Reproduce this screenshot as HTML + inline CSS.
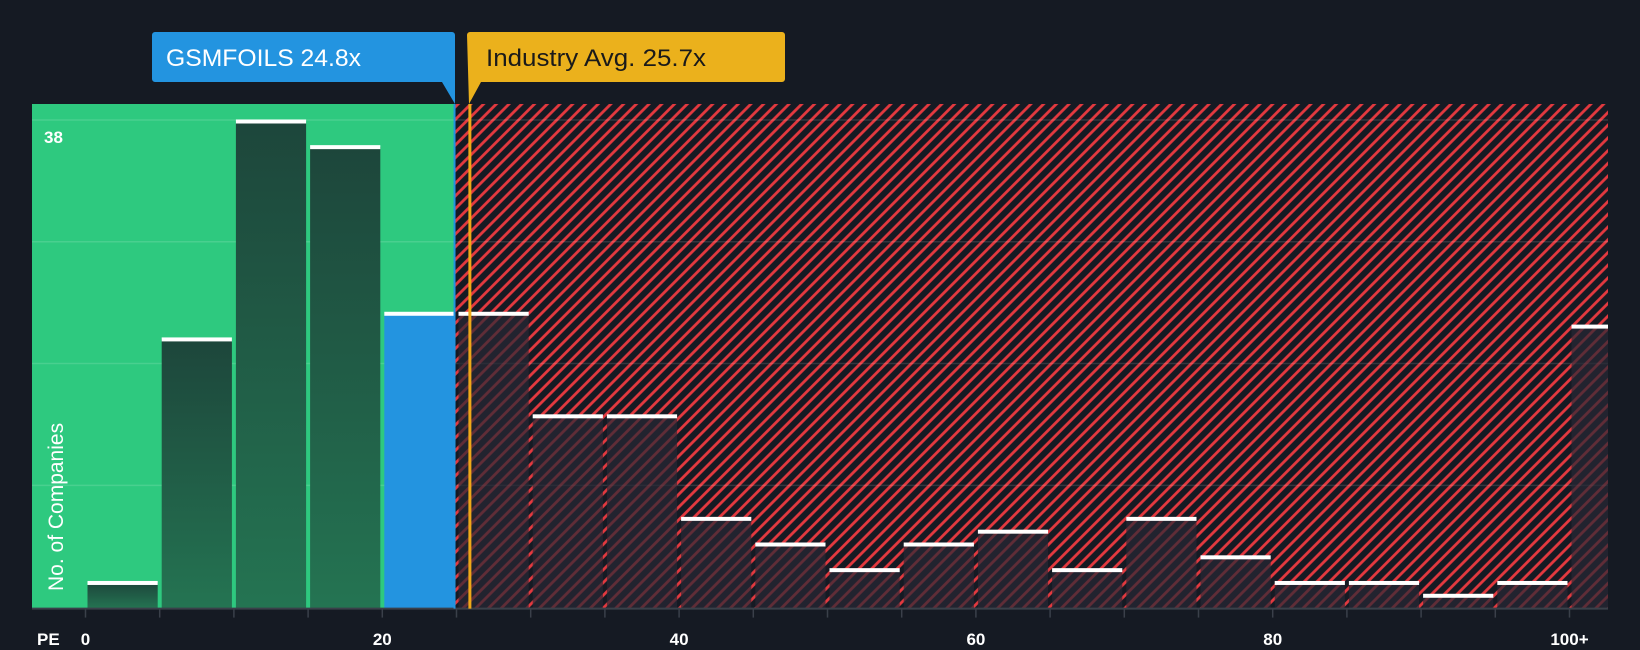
<!DOCTYPE html>
<html><head><meta charset="utf-8"><style>
html,body{margin:0;padding:0;background:#151a23;}
svg{display:block;font-family:"Liberation Sans",sans-serif;}
</style></head><body>
<svg width="1640" height="650" viewBox="0 0 1640 650" xmlns="http://www.w3.org/2000/svg">
<defs>
<pattern id="hatch" patternUnits="userSpaceOnUse" width="9" height="9" patternTransform="rotate(45)">
<rect width="9" height="9" fill="#151a23"/>
<line x1="1.5" y1="0" x2="1.5" y2="9" stroke="#e4393f" stroke-width="2.8"/>
</pattern>
<linearGradient id="gbar" x1="0" y1="0" x2="0" y2="1">
<stop offset="0" stop-color="#1d463b"/><stop offset="1" stop-color="#247452"/>
</linearGradient>
</defs>
<rect width="1640" height="650" fill="#151a23"/>
<g id="plot"></g>
</svg>
<script>
const binStarts=[0,5,10,15,20,25,30,35,40,45,50,55,60,65,70,75,80,85,90,95,100];
const counts=[2,21,38,36,23,23,15,15,7,5,3,5,6,3,7,4,2,2,1,2,22];
const xTicks=[0,20,40,60,80,100];
const xTickLabels=["0","20","40","60","80","100+"];
const companyPE=24.8;
const industryPE=25.7;
const yMax=38;

const NS="http://www.w3.org/2000/svg";
const g=document.getElementById('plot');
const L=32,R=1608,T=104,B=608.6,X0=85.5,PX=14.84;
const x=v=>X0+v*PX;
const y=v=>B-(v/yMax)*(B-121.5);
function el(t,a,p){const e=document.createElementNS(NS,t);for(const k in a)e.setAttribute(k,a[k]);(p||g).appendChild(e);return e;}
const xs=x(companyPE)+1;
let e=el('rect',{x:L,y:T,width:xs-L,height:B-T,fill:'#2ec97f'});


e=el('rect',{x:xs,y:T,width:R-xs,height:B-T,fill:'url(#hatch)'});


for(let i=1;i<=4;i++){
 const gy=y(yMax*i/4)-1.5;
 e=el('line',{x1:L,x2:R,y1:gy,y2:gy,stroke:'rgba(255,255,255,0.13)','stroke-width':1.5});
 
 
}
binStarts.forEach((s,i)=>{
 const x1=x(s)+2,x2=(i===binStarts.length-1)?R:x(s+5)-2;
 const top=y(counts[i]);
 let fill;
 if(s+5<=companyPE) fill='url(#gbar)';
 else if(s<=companyPE) fill='#2394e0';
 else fill='rgba(40,40,52,0.7)';
 const b=el('rect',{x:x1,y:top,width:x2-x1,height:B-top,fill:fill});
 
 
 const c=el('rect',{x:x1,y:top-2,width:x2-x1,height:4,fill:'#ffffff'});
 
 
});
e=el('line',{x1:L,x2:R,y1:B,y2:B,stroke:'#3a404a','stroke-width':2});


binStarts.forEach(s=>{const t=el('line',{x1:x(s),x2:x(s),y1:B,y2:B+9,stroke:'#3a404a','stroke-width':1.5});
 
 });
xTicks.forEach((v,i)=>{const t=el('text',{x:x(v),y:645,fill:'#fff','font-size':17,'font-weight':'bold','text-anchor':'middle'});
 t.textContent=xTickLabels[i];
 
 });
e=el('text',{x:37,y:645,fill:'#fff','font-size':17,'font-weight':'bold'});e.textContent='PE';


e=el('text',{x:44,y:143,fill:'#fff','font-size':17,'font-weight':'bold'});e.textContent=String(yMax);


e=el('text',{x:0,y:0,fill:'#fff','font-size':21,transform:'translate(63,591) rotate(-90)'});e.textContent='No. of Companies';


const xi=x(industryPE)+3;
e=el('line',{x1:xs,x2:xs,y1:T,y2:B,stroke:'#2394e0','stroke-width':2});


e=el('line',{x1:xi,x2:xi,y1:T,y2:B,stroke:'#f0a818','stroke-width':3});


e=el('path',{d:`M152,35 a3,3 0 0 1 3,-3 H452 a3,3 0 0 1 3,3 V104 L442,82 H155 a3,3 0 0 1 -3,-3 Z`,fill:'#2394e0'});


e=el('text',{x:166,y:66,fill:'#fff','font-size':24,textLength:195,lengthAdjust:'spacingAndGlyphs'});e.textContent='GSMFOILS 24.8x';


e=el('path',{d:`M467,35 a3,3 0 0 1 3,-3 H782 a3,3 0 0 1 3,3 V79 a3,3 0 0 1 -3,3 H481 L469,104 Z`,fill:'#ebb11c'});


e=el('text',{x:486,y:66,fill:'#1a1a1a','font-size':24,textLength:220,lengthAdjust:'spacingAndGlyphs'});e.textContent='Industry Avg. 25.7x';


</script>
</body></html>
